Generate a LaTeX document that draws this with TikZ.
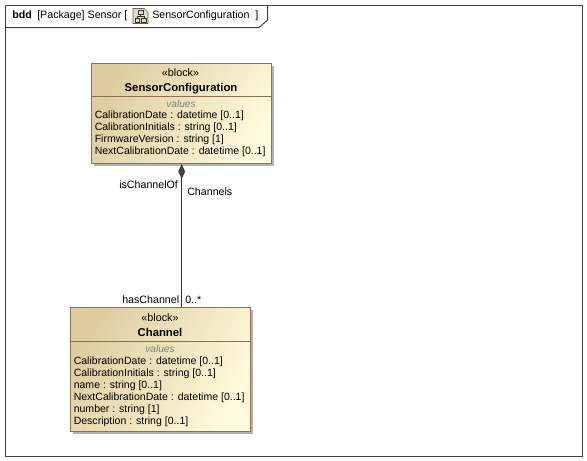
\documentclass[tikz,border=0pt]{standalone}
\usepackage{fontspec}
\setmainfont{Liberation Sans}
\usetikzlibrary{arrows.meta,shadows}

\definecolor{blockedge}{HTML}{8F7050}
\definecolor{blockdark}{HTML}{DFCDA0}
\definecolor{blocklight}{HTML}{FFFBDC}
\definecolor{valuegray}{HTML}{808080}
\definecolor{iconedge}{HTML}{6F6148}

\tikzset{
    block/.style={draw=blockedge, line width=.75pt, left color=blockdark, right color=blocklight,
        shading angle=60, minimum width=135pt, inner sep=0pt,
        drop shadow={shadow xshift=1.5pt, shadow yshift=-1.5pt, fill=black!30, opacity=1}},
    sterotext/.style={font=\fontsize{8.1}{9}\selectfont, anchor=base},
    titletext/.style={font=\fontsize{8.5}{9}\selectfont\bfseries, anchor=base},
    valuelabel/.style={font=\fontsize{7.6}{9}\selectfont\itshape, text=valuegray, anchor=base},
    valuelist/.style={font=\fontsize{7.9}{9}\selectfont, align=left, anchor=north west, inner sep=0pt},
    rolelabel/.style={font=\fontsize{8}{9}\selectfont, inner sep=0pt, anchor=base west},
}

\begin{document}
\begin{tikzpicture}[x=.75pt, y=-.75pt]
    \useasboundingbox (0,0) rectangle (587,461);
    \fill[white] (0,0) rectangle (587,461);

    % frame and its tab
    \draw[line width=.75pt, black!75] (5.5,5.5) rectangle (582.5,456.5);
    \draw[line width=.75pt, black!75] (5.5,27.5) -- (259,27.5) -- (267.5,20) -- (267.5,5.5);
    \node[rolelabel] (kind) at (12,18) {\textbf{bdd}};
    \node[rolelabel] (pack) at (37,18) {[Package] Sensor [};
    \node[rolelabel] (diag) at (152,18) {SensorConfiguration};
    \node[rolelabel] (diagend) at (255,18) {]};

    % icon of the diagram
    \filldraw[draw=iconedge, fill=blockdark!70, line width=.5pt]
        (133,8.5) -- (144,8.5) -- (148,12.5) -- (148,23.5) -- (133,23.5) -- cycle;
    \draw[line width=.5pt, black!80] (138,10.5) rectangle (143,14.5)
        (135,18) rectangle (139.5,22) (141.5,18) rectangle (146,22)
        (140.5,14.5) -- (140.5,16.5) (137,18) -- (137,16.5) -- (144,16.5) -- (144,18);

    % SensorConfiguration block
    \node[block, minimum height=75pt] (config) at (181.7,113.7) {};
    \draw[blockedge, line width=.75pt] (config.west |- 0,96.5) -- (config.east |- 0,96.5);
    \node[sterotext] (configstereo) at (180.5,76) {«block»};
    \node[titletext] (configtitle) at (181,91) {SensorConfiguration};
    \node[valuelabel] (configvalues) at (181,107) {values};
    \node[valuelist] (configlist) at (94.5,111) {CalibrationDate : datetime [0..1]\\
        CalibrationInitials : string [0..1]\\
        FirmwareVersion : string [1]\\
        NextCalibrationDate : datetime [0..1]};

    % Channel block
    \node[block, minimum height=93pt] (channel) at (160.7,369.7) {};
    \draw[blockedge, line width=.75pt] (channel.west |- 0,341) -- (channel.east |- 0,341);
    \node[sterotext] (channelstereo) at (160,321) {«block»};
    \node[titletext] (channeltitle) at (160,336) {Channel};
    \node[valuelabel] (channelvalues) at (160,352) {values};
    \node[valuelist] (channellist) at (73.5,356.5) {CalibrationDate : datetime [0..1]\\
        CalibrationInitials : string [0..1]\\
        name : string [0..1]\\
        NextCalibrationDate : datetime [0..1]\\
        number : string [1]\\
        Description : string [0..1]};

    % composition
    \draw[{Diamond[length=11pt,width=5pt,fill=black!70]}-, black!80, line width=.75pt]
        (config.south) -- (config.south |- channel.north);
    \node[rolelabel] (endone) at (119,188) {isChannelOf};
    \node[rolelabel] (assoc) at (187,195) {Channels};
    \node[rolelabel] (endtwo) at (122,303) {hasChannel};
    \node[rolelabel] (multi) at (185,303) {0..*};
\end{tikzpicture}
\end{document}
